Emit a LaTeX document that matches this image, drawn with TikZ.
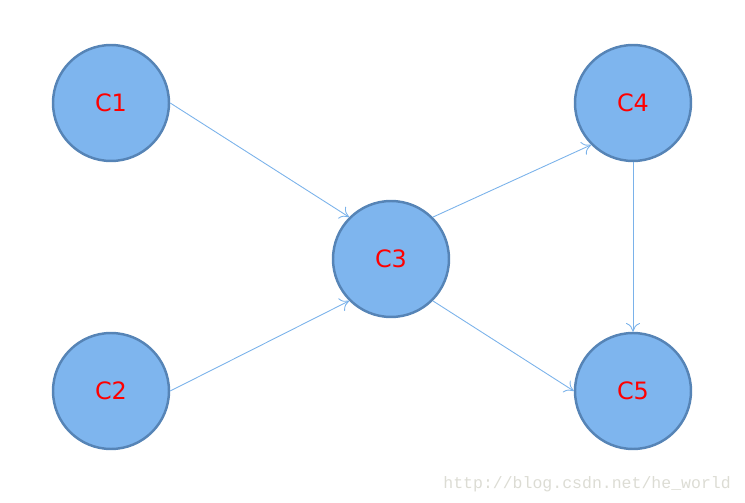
\documentclass[tikz,border=0pt]{standalone}
\usepackage{fontspec}
\usetikzlibrary{arrows.meta}
\setmainfont{DejaVu Sans}
\newfontfamily\markfont{Liberation Mono}
\definecolor{cfill}{HTML}{7EB5EE}
\definecolor{cline}{HTML}{5684B6}
\definecolor{carrow}{HTML}{7AB2EA}
\definecolor{cmark}{HTML}{DCDCD4}
\begin{document}
\begin{tikzpicture}[x=0.02cm,y=-0.02cm,
    cnode/.style={circle,draw=cline,fill=cfill,line width=1.4pt,minimum size=2.32cm,inner sep=0pt,
                  text=red,font=\fontsize{13.6}{16}\selectfont},
    link/.style={draw=carrow,line width=0.5pt,-{To[length=5pt,width=8pt]}}]
            \useasboundingbox (0,0) rectangle (745,503);
            % Draw nodes
            \node[cnode] (c1) at (111,103) {C1};
            \node[cnode] (c2) at (111,391) {C2};
            \node[cnode] (c3) at (391,259) {C3};
            \node[cnode] (c4) at (633,103) {C4};
            \node[cnode] (c5) at (633,391) {C5};
            % Draw arrows
            \draw[link] (c1.east) -- (c3.135);
            \draw[link] (c2.east) -- (c3.225);
            \draw[link] (c3.45) -- (c4.225);
            \draw[link] (c3.315) -- (c5.west);
            \draw[link] (c4.south) -- (c5.north);
            \node[text=cmark,font=\markfont\fontsize{9.4}{12}\selectfont,anchor=east] (mark) at (737,484) {http://blog.csdn.net/he\_world};
        \end{tikzpicture}
\end{document}
